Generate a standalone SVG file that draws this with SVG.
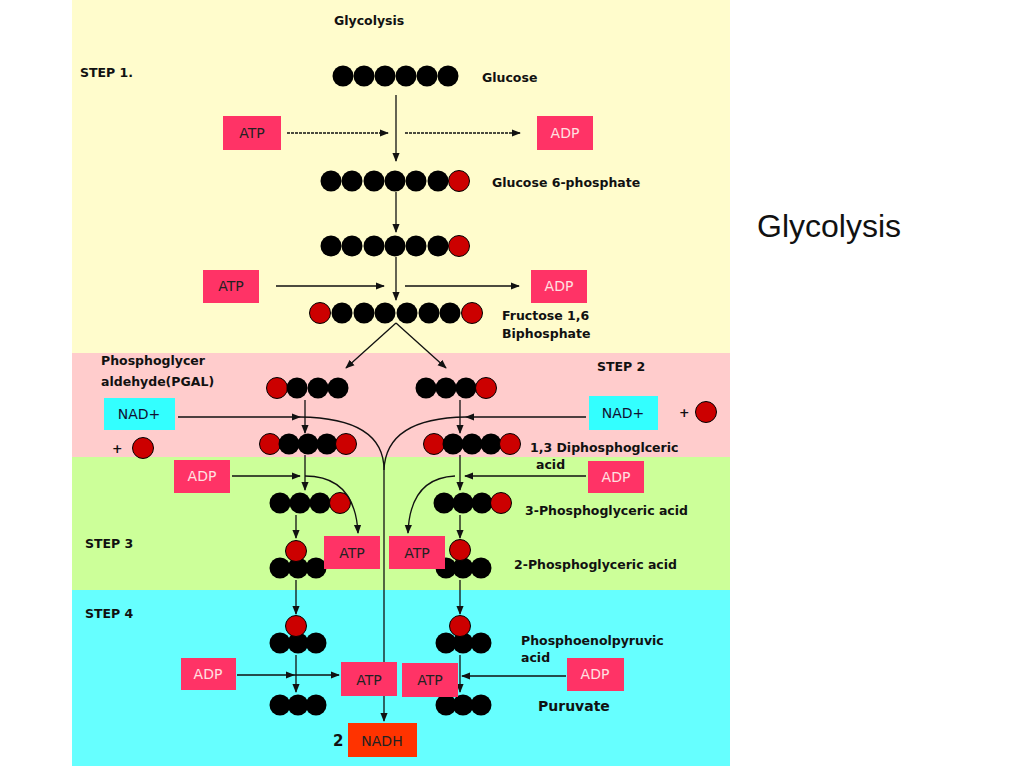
<svg xmlns="http://www.w3.org/2000/svg" width="1024" height="768" viewBox="0 0 1024 768">
<defs>
<marker id="ah" viewBox="0 0 10 10" refX="9" refY="5" markerWidth="7" markerHeight="7" orient="auto"><path d="M0,1 L10,5 L0,9 z" fill="#111"/></marker>
<g id="b"><circle r="10.5" fill="#000"/></g>
<g id="r"><circle r="10.5" fill="#cc0000" stroke="#000" stroke-width="1"/></g>
</defs>
<style>
text{font-family:"DejaVu Sans",sans-serif;font-size:13px;fill:#111}
.lbl{font-weight:bold;font-size:12.5px}
.box{fill:#ff3366}
.nad{fill:#33ffff}
.bt{font-size:14px;text-anchor:middle;fill:#222}
.wt{font-size:14px;text-anchor:middle;fill:#ffe0e0}
.ln{stroke:#111;stroke-width:1.3;fill:none}
</style>
<rect width="1024" height="768" fill="#fff"/>
<rect x="72" y="0" width="658" height="353" fill="#fffccc"/>
<rect x="72" y="353" width="658" height="104" fill="#ffcccc"/>
<rect x="72" y="457" width="658" height="133" fill="#ccff99"/>
<rect x="72" y="590" width="658" height="176" fill="#66ffff"/>
<text x="757" y="237" style="font-family:'Liberation Sans',sans-serif;font-size:32px">Glycolysis</text>

<g id="labels" class="lbl">
<text x="334" y="25" class="lbl">Glycolysis</text>
<text x="80" y="77" class="lbl">STEP 1.</text>
<text x="482" y="82" class="lbl">Glucose</text>
<text x="492" y="187" class="lbl">Glucose 6-phosphate</text>
<text x="502" y="320" class="lbl">Fructose 1,6</text>
<text x="502" y="338" class="lbl">Biphosphate</text>
<text x="101" y="365" class="lbl">Phosphoglycer</text>
<text x="101" y="386" class="lbl">aldehyde(PGAL)</text>
<text x="597" y="371" class="lbl">STEP 2</text>
<text x="530" y="452" class="lbl">1,3 Diphosphoglceric</text>
<text x="536" y="469" class="lbl">acid</text>
<text x="525" y="515" class="lbl">3-Phosphoglyceric acid</text>
<text x="85" y="548" class="lbl">STEP 3</text>
<text x="514" y="569" class="lbl">2-Phosphoglyceric acid</text>
<text x="85" y="618" class="lbl">STEP 4</text>
<text x="521" y="645" class="lbl">Phosphoenolpyruvic</text>
<text x="521" y="662" class="lbl">acid</text>
<text x="538" y="711" class="lbl" style="font-size:14px">Puruvate</text>
<text x="112" y="453" class="lbl">+</text>
<text x="679" y="417" class="lbl">+</text>
<text x="333" y="746" style="font-size:15px">2</text>
</g>

<g id="molecules">
<g id="glucose"><use href="#b" x="343" y="76"/><use href="#b" x="364" y="76"/><use href="#b" x="385" y="76"/><use href="#b" x="406" y="76"/><use href="#b" x="427" y="76"/><use href="#b" x="448" y="76"/></g>
<g id="g6p"><use href="#b" x="331" y="181"/><use href="#b" x="352" y="181"/><use href="#b" x="374" y="181"/><use href="#b" x="395" y="181"/><use href="#b" x="416" y="181"/><use href="#b" x="438" y="181"/><use href="#r" x="459" y="181"/></g>
<g id="f6p"><use href="#b" x="331" y="246"/><use href="#b" x="352" y="246"/><use href="#b" x="374" y="246"/><use href="#b" x="395" y="246"/><use href="#b" x="416" y="246"/><use href="#b" x="438" y="246"/><use href="#r" x="459" y="246"/></g>
<g id="f16"><use href="#r" x="320" y="313"/><use href="#b" x="342" y="313"/><use href="#b" x="364" y="313"/><use href="#b" x="385" y="313"/><use href="#b" x="407" y="313"/><use href="#b" x="429" y="313"/><use href="#b" x="450" y="313"/><use href="#r" x="472" y="313"/></g>
<g id="pgalL"><use href="#r" x="277" y="388"/><use href="#b" x="297" y="388"/><use href="#b" x="318" y="388"/><use href="#b" x="338" y="388"/></g>
<g id="pgalR"><use href="#b" x="426" y="388"/><use href="#b" x="446" y="388"/><use href="#b" x="466" y="388"/><use href="#r" x="486" y="388"/></g>
<use href="#r" x="143" y="448"/><use href="#r" x="706" y="412"/>
<g id="dpgL"><use href="#r" x="270" y="444"/><use href="#b" x="289" y="444"/><use href="#b" x="308" y="444"/><use href="#b" x="327" y="444"/><use href="#r" x="346" y="444"/></g>
<g id="dpgR"><use href="#r" x="434" y="444"/><use href="#b" x="453" y="444"/><use href="#b" x="472" y="444"/><use href="#b" x="491" y="444"/><use href="#r" x="510" y="444"/></g>
<g id="pg3L"><use href="#b" x="280" y="503"/><use href="#b" x="300" y="503"/><use href="#b" x="320" y="503"/><use href="#r" x="340" y="503"/></g>
<g id="pg3R"><use href="#b" x="444" y="503"/><use href="#b" x="463" y="503"/><use href="#b" x="482" y="503"/><use href="#r" x="501" y="503"/></g>
<g id="pg2L"><use href="#b" x="280" y="568"/><use href="#b" x="298" y="568"/><use href="#b" x="316" y="568"/><use href="#r" x="296" y="551"/></g>
<g id="pg2R"><use href="#b" x="446" y="568"/><use href="#b" x="463" y="568"/><use href="#b" x="481" y="568"/><use href="#r" x="460" y="550"/></g>
<g id="pepL"><use href="#b" x="280" y="643"/><use href="#b" x="298" y="643"/><use href="#b" x="316" y="643"/><use href="#r" x="296" y="626"/></g>
<g id="pepR"><use href="#b" x="446" y="643"/><use href="#b" x="463" y="643"/><use href="#b" x="481" y="643"/><use href="#r" x="460" y="626"/></g>
<g id="pyrL"><use href="#b" x="280" y="705"/><use href="#b" x="298" y="705"/><use href="#b" x="316" y="705"/></g>
<g id="pyrR"><use href="#b" x="446" y="705"/><use href="#b" x="463" y="705"/><use href="#b" x="481" y="705"/></g>
</g>

<g id="connectors" class="ln">
<line x1="396" y1="95" x2="396" y2="161" marker-end="url(#ah)"/>
<line x1="287" y1="133" x2="388" y2="133" stroke-dasharray="3,1" marker-end="url(#ah)"/>
<line x1="405" y1="133" x2="520" y2="133" stroke-dasharray="3,1" marker-end="url(#ah)"/>
<line x1="396" y1="192" x2="396" y2="232" marker-end="url(#ah)"/>
<line x1="396" y1="257" x2="396" y2="300" marker-end="url(#ah)"/>
<line x1="276" y1="286" x2="384" y2="286" marker-end="url(#ah)"/>
<line x1="405" y1="286" x2="519" y2="286" marker-end="url(#ah)"/>
<line x1="396" y1="323" x2="346" y2="368" marker-end="url(#ah)"/>
<line x1="396" y1="323" x2="446" y2="368" marker-end="url(#ah)"/>
<line x1="305" y1="400" x2="305" y2="433" marker-end="url(#ah)"/>
<line x1="460" y1="400" x2="460" y2="433" marker-end="url(#ah)"/>
<line x1="178" y1="417" x2="300" y2="417" marker-end="url(#ah)"/>
<path d="M300,417 Q384,418 384,470"/>
<line x1="586" y1="417" x2="466" y2="417" marker-end="url(#ah)"/>
<path d="M466,417 Q386,418 384,470"/>
<line x1="384" y1="470" x2="384" y2="721" marker-end="url(#ah)"/>
<line x1="305" y1="455" x2="305" y2="490" marker-end="url(#ah)"/>
<line x1="460" y1="455" x2="460" y2="490" marker-end="url(#ah)"/>
<line x1="232" y1="476" x2="300" y2="476" marker-end="url(#ah)"/>
<path d="M305,476 Q355,476 358,533" marker-end="url(#ah)"/>
<line x1="586" y1="476" x2="465" y2="476" marker-end="url(#ah)"/>
<path d="M455,476 Q410,478 408,533" marker-end="url(#ah)"/>
<line x1="296" y1="515" x2="296" y2="538" marker-end="url(#ah)"/>
<line x1="460" y1="515" x2="460" y2="538" marker-end="url(#ah)"/>
<line x1="296" y1="580" x2="296" y2="614" marker-end="url(#ah)"/>
<line x1="460" y1="580" x2="460" y2="614" marker-end="url(#ah)"/>
<line x1="296" y1="655" x2="296" y2="692" marker-end="url(#ah)"/>
<line x1="460" y1="655" x2="460" y2="692" marker-end="url(#ah)"/>
<line x1="237" y1="675" x2="294" y2="675" marker-end="url(#ah)"/>
<line x1="294" y1="675" x2="339" y2="675" marker-end="url(#ah)"/>
<line x1="566" y1="676" x2="462" y2="676" marker-end="url(#ah)"/>
</g>

<g id="boxes">
<g id="atp1"><rect class="box" x="223" y="116" width="58" height="34"/><text class="bt" x="252" y="138">ATP</text></g>
<g id="adp1"><rect class="box" x="537" y="116" width="56" height="34"/><text class="wt" x="565" y="138">ADP</text></g>
<g id="atp2"><rect class="box" x="203" y="270" width="56" height="33"/><text class="bt" x="231" y="291">ATP</text></g>
<g id="adp2"><rect class="box" x="531" y="270" width="56" height="33"/><text class="wt" x="559" y="291">ADP</text></g>
<g id="nadL"><rect class="nad" x="104" y="398" width="71" height="32"/><text class="bt" x="139" y="419" style="fill:#113">NAD+</text></g>
<g id="nadR"><rect class="nad" x="589" y="396" width="69" height="34"/><text class="bt" x="623" y="418" style="fill:#113">NAD+</text></g>
<g id="adp3"><rect class="box" x="174" y="460" width="56" height="33"/><text class="wt" x="202" y="481">ADP</text></g>
<g id="adp4"><rect class="box" x="588" y="461" width="56" height="32"/><text class="wt" x="616" y="482">ADP</text></g>
<g id="atp3"><rect class="box" x="324" y="536" width="56" height="33"/><text class="bt" x="352" y="558">ATP</text></g>
<g id="atp4"><rect class="box" x="389" y="536" width="56" height="33"/><text class="bt" x="417" y="558">ATP</text></g>
<g id="adp5"><rect class="box" x="181" y="658" width="55" height="32"/><text class="wt" x="208" y="679">ADP</text></g>
<g id="atp5"><rect class="box" x="341" y="662" width="56" height="34"/><text class="bt" x="369" y="685">ATP</text></g>
<g id="atp6"><rect class="box" x="402" y="663" width="56" height="34"/><text class="bt" x="430" y="685">ATP</text></g>
<g id="adp6"><rect class="box" x="567" y="658" width="57" height="33"/><text class="wt" x="595" y="679">ADP</text></g>
<g id="nadh"><rect x="348" y="723" width="69" height="34" fill="#ff3300"/><text class="bt" x="382" y="746">NADH</text></g>
</g>
</svg>
